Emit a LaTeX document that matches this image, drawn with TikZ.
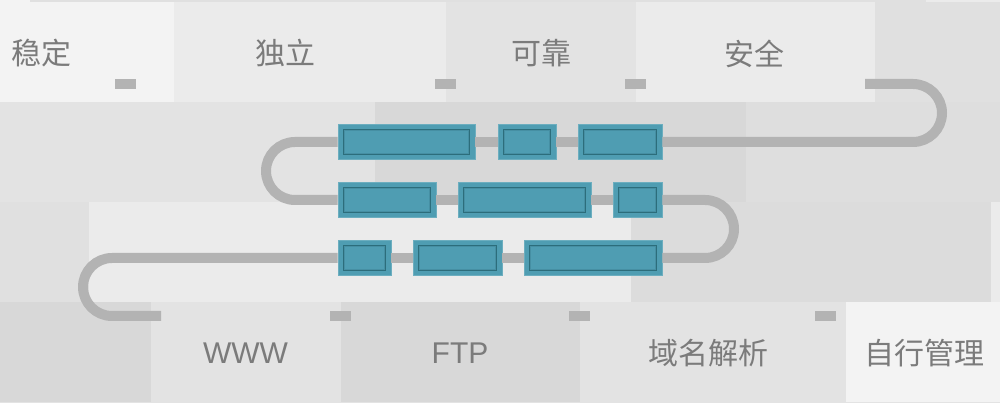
\documentclass[tikz,border=0pt]{standalone}
\usepackage{fontspec}
\setmainfont{Liberation Sans}
\newfontfamily\cjk{Noto Sans CJK SC}
\definecolor{bgA}{HTML}{F3F3F3}
\definecolor{bgB}{HTML}{EBEBEB}
\definecolor{bgC}{HTML}{E3E3E3}
\definecolor{bgD}{HTML}{DEDEDE}
\definecolor{bgE}{HTML}{D8D8D8}
\definecolor{bgF}{HTML}{E0E0E0}
\definecolor{bgG}{HTML}{DCDCDC}
\definecolor{pipec}{HTML}{B3B3B3}
\definecolor{segfill}{HTML}{4F9DB2}
\definecolor{segedge}{HTML}{6CAEBF}
\definecolor{segdark}{HTML}{2C6D7B}
\definecolor{segshade}{HTML}{468FA3}
\definecolor{txt}{HTML}{7B7B7B}
\tikzset{
  tile/.style={fill=#1, draw=none},
  pipe/.style={draw=pipec, line width=10pt, line cap=butt, line join=round},
  stub/.style={fill=pipec, draw=none},
  seg/.style={draw=segedge, line width=0.6pt, fill=segfill, inner sep=0pt,
    minimum height=35.5pt,
    path picture={
      \draw[segshade, line width=1pt]
        ([shift={(6.6pt,6.6pt)}]path picture bounding box.south west) rectangle
        ([shift={(-6.6pt,-6.6pt)}]path picture bounding box.north east);
      \draw[segdark, line width=1.2pt]
        ([shift={(5.3pt,5.3pt)}]path picture bounding box.south west) rectangle
        ([shift={(-5.3pt,-5.3pt)}]path picture bounding box.north east);
    }},
  lbl/.style={text=txt, inner sep=0pt, font=\fontsize{30}{30}\selectfont\cjk},
  lbll/.style={text=txt, inner sep=0pt, font=\fontsize{30}{30}\selectfont}
}
\begin{document}
\begin{tikzpicture}[x=1pt,y=1pt]
\useasboundingbox (0,0) rectangle (1000,403);
% background tiles (y measured upward: Y = 403 - y)
% top strip
\fill[bgA] (0,401) rectangle (30,403);
\fill[bgF] (30,401) rectangle (926,403);
\fill[bgB] (926,401) rectangle (1000,403);
% row 1 (y 2..102)
\fill[bgA] (0,301) rectangle (174,401);
\fill[bgB] (174,301) rectangle (446,401);
\fill[bgC] (446,301) rectangle (636,401);
\fill[bgB] (636,301) rectangle (875,401);
\fill[bgF] (875,301) rectangle (1000,401);
% row 2 (y 102..202)
\fill[bgC] (0,201) rectangle (375,301);
\fill[bgE] (375,201) rectangle (746,301);
\fill[bgD] (746,201) rectangle (1000,301);
% row 3 (y 202..302)
\fill[bgF] (0,101) rectangle (89,201);
\fill[bgB] (89,101) rectangle (631,201);
\fill[bgG] (631,101) rectangle (991,201);
\fill[bgB] (991,101) rectangle (1000,201);
% row 4 (y 302..402)
\fill[bgE] (0,1) rectangle (151,101);
\fill[bgC] (151,1) rectangle (341,101);
\fill[bgE] (341,1) rectangle (580,101);
\fill[bgC] (580,1) rectangle (846,101);
\fill[bgA] (846,1) rectangle (1000,101);
\fill[bgC] (0,0) rectangle (1000,1);

% labels
\node[lbl] (t1) at (42,349.5) {稳定};
\node[lbl] (t2) at (285.5,349.5) {独立};
\node[lbl] (t3) at (541.5,349.5) {可靠};
\node[lbl] (t4) at (754.5,349.5) {安全};
\node[lbll] (b1) at (245.5,50) {WWW};
\node[lbll] (b2) at (460,50) {FTP};
\node[lbl] (b3) at (708,50) {域名解析};
\node[lbl] (b4) at (924,50) {自行管理};

% stubs
\fill[stub] (115,314) rectangle (136,324);
\fill[stub] (435,314) rectangle (456,324);
\fill[stub] (625,314) rectangle (646,324);
\fill[stub] (330,82) rectangle (351,92);
\fill[stub] (569,82) rectangle (590,92);
\fill[stub] (815,82) rectangle (836,92);

% segments (boxes)
\node[seg, minimum width=137pt] (r1a) at (406.5,261) {};
\node[seg, minimum width=58pt]  (r1b) at (527,261) {};
\node[seg, minimum width=84pt]  (r1c) at (620,261) {};
\node[seg, minimum width=98pt]  (r2a) at (387,203) {};
\node[seg, minimum width=133pt] (r2b) at (524.5,203) {};
\node[seg, minimum width=49pt]  (r2c) at (637.5,203) {};
\node[seg, minimum width=53pt]  (r3a) at (364.5,145) {};
\node[seg, minimum width=89pt]  (r3b) at (457.5,145) {};
\node[seg, minimum width=138pt] (r3c) at (593,145) {};

\coordinate (pstart) at (865,319);
\coordinate (pend) at (161,87);

% pipe
\draw[pipe] (pstart) -- (913,319) arc[start angle=90, end angle=-90, radius=29pt] -- (r1c.east);
\draw[pipe] (r1c.west) -- (r1b.east);
\draw[pipe] (r1b.west) -- (r1a.east);
\draw[pipe] (r1a.west) -- (295,261) arc[start angle=90, end angle=270, radius=29pt] -- (r2a.west);
\draw[pipe] (r2a.east) -- (r2b.west);
\draw[pipe] (r2b.east) -- (r2c.west);
\draw[pipe] (r2c.east) -- (705,203) arc[start angle=90, end angle=-90, radius=29pt] -- (r3c.east);
\draw[pipe] (r3c.west) -- (r3b.east);
\draw[pipe] (r3b.west) -- (r3a.east);
\draw[pipe] (r3a.west) -- (112,145) arc[start angle=90, end angle=270, radius=29pt] -- (pend);
\end{tikzpicture}
\end{document}
